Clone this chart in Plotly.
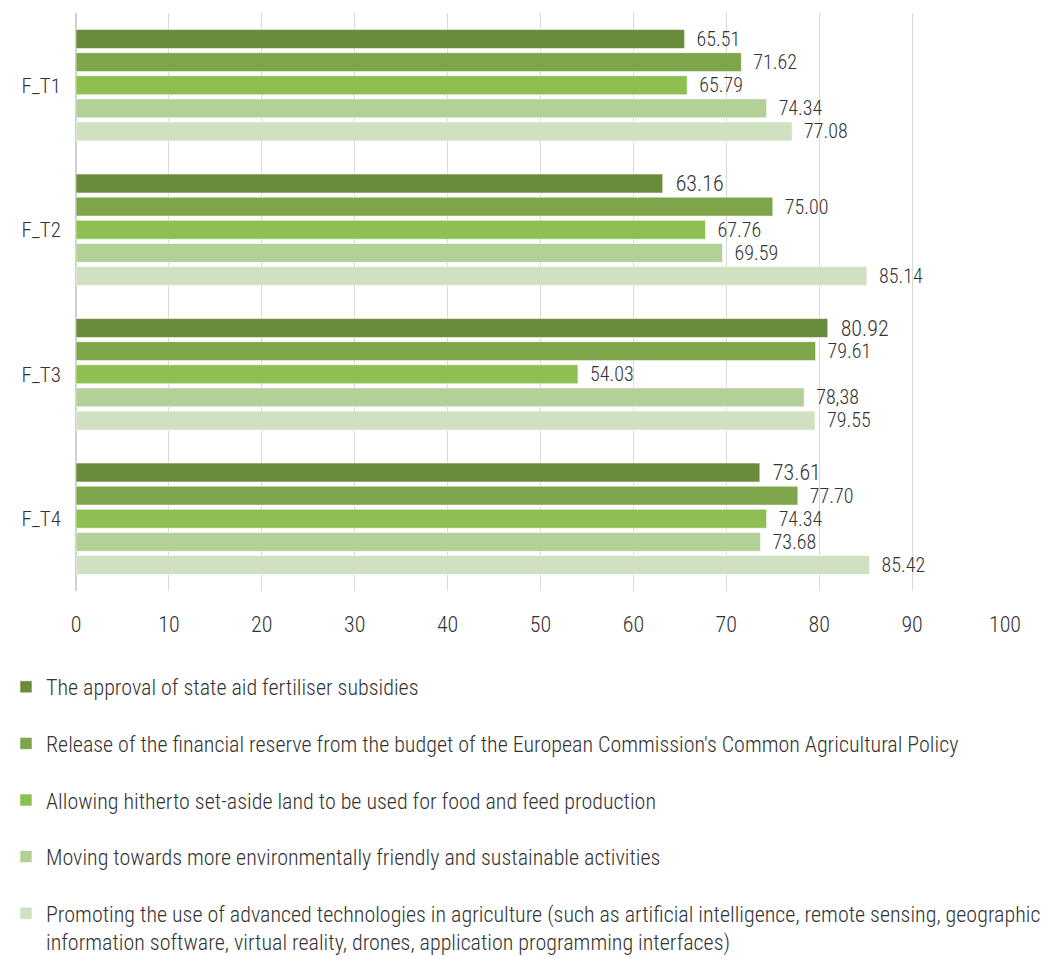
import plotly.graph_objects as go

categories = ["F_T1", "F_T2", "F_T3", "F_T4"]

series_names = [
    "The approval of state aid fertiliser subsidies",
    "Release of the financial reserve from the budget of the European Commission's Common Agricultural Policy",
    "Allowing hitherto set-aside land to be used for food and feed production",
    "Moving towards more environmentally friendly and sustainable activities",
    "Promoting the use of advanced technologies in agriculture (such as artificial intelligence, remote sensing, geographic<br>information software, virtual reality, drones, application programming interfaces)",
]

approval_subsidies = [65.51, 63.16, 80.92, 73.61]
financial_reserve = [71.62, 75.00, 79.61, 77.70]
set_aside_land = [65.79, 67.76, 54.03, 74.34]
sustainable_activities = [74.34, 69.59, 78.38, 73.68]
advanced_technologies = [77.08, 85.14, 79.55, 85.42]

# label strings as printed next to each bar
approval_labels = ["65.51", "63.16", "80.92", "73.61"]
reserve_labels = ["71.62", "75.00", "79.61", "77.70"]
land_labels = ["65.79", "67.76", "54.03", "74.34"]
sustainable_labels = ["74.34", "69.59", "78,38", "73.68"]
technology_labels = ["77.08", "85.14", "79.55", "85.42"]

x_ticks = [0, 10, 20, 30, 40, 50, 60, 70, 80, 90, 100]

colors = ["#6a8c3a", "#7ea54a", "#8fbe52", "#b3d096", "#d0e1c2"]
label_sizes = [
    [20, 22, 22, 22],
    [20, 20, 20, 20],
    [20, 20, 20, 20],
    [20, 20, 20, 20],
    [20, 20, 20, 20],
]

FONT = "Roboto Condensed, Liberation Sans Narrow, Roboto, sans-serif"

values = [approval_subsidies, financial_reserve, set_aside_land,
          sustainable_activities, advanced_technologies]
labels = [approval_labels, reserve_labels, land_labels,
          sustainable_labels, technology_labels]

fig = go.Figure()
for i, (name, vals, labs) in enumerate(zip(series_names, values, labels)):
    fig.add_trace(go.Bar(
        name=name,
        y=categories,
        x=vals,
        orientation="h",
        marker=dict(color=colors[i], line=dict(color="rgba(255,255,255,0.55)", width=1)),
        text=["\u00a0\u00a0" + t for t in labs],
        textposition="outside",
        constraintext="none",
        textfont=dict(size=label_sizes[i], color="#333333", family=FONT, weight=300),
        cliponaxis=False,
        legendgroup=f"g{i}",
        hoverinfo="x+name",
    ))

fig.update_layout(
    width=1048,
    height=959,
    margin=dict(l=76, r=43, t=13, b=368, autoexpand=False),
    paper_bgcolor="white",
    plot_bgcolor="white",
    barmode="group",
    bargap=0.2,
    bargroupgap=0.18,
    font=dict(family=FONT, size=22, color="#333333", weight=300),
    showlegend=True,
    legend=dict(
        orientation="v",
        xref="container",
        yref="container",
        x=6 / 1048,
        xanchor="left",
        y=1 - 666 / 959,
        yanchor="top",
        traceorder="grouped",
        tracegroupgap=25,
        valign="top",
        font=dict(size=22, color="#333333", family=FONT, weight=300),
        itemclick=False,
        itemdoubleclick=False,
    ),
    xaxis=dict(
        range=[0, 100],
        tickvals=x_ticks,
        showgrid=True,
        gridcolor="#d9d9d9",
        gridwidth=1,
        zeroline=True,
        zerolinecolor="#d0d0d0",
        zerolinewidth=2,
        showline=False,
        ticks="",
        ticklabelstandoff=18,
        automargin=False,
        tickfont=dict(size=22, color="#333333", weight=300),
    ),
    yaxis=dict(
        autorange="reversed",
        showgrid=False,
        showline=False,
        ticks="",
        ticklabelstandoff=14,
        automargin=False,
        tickfont=dict(size=21, color="#333333", weight=300),
    ),
)

fig.write_html("out.html")
